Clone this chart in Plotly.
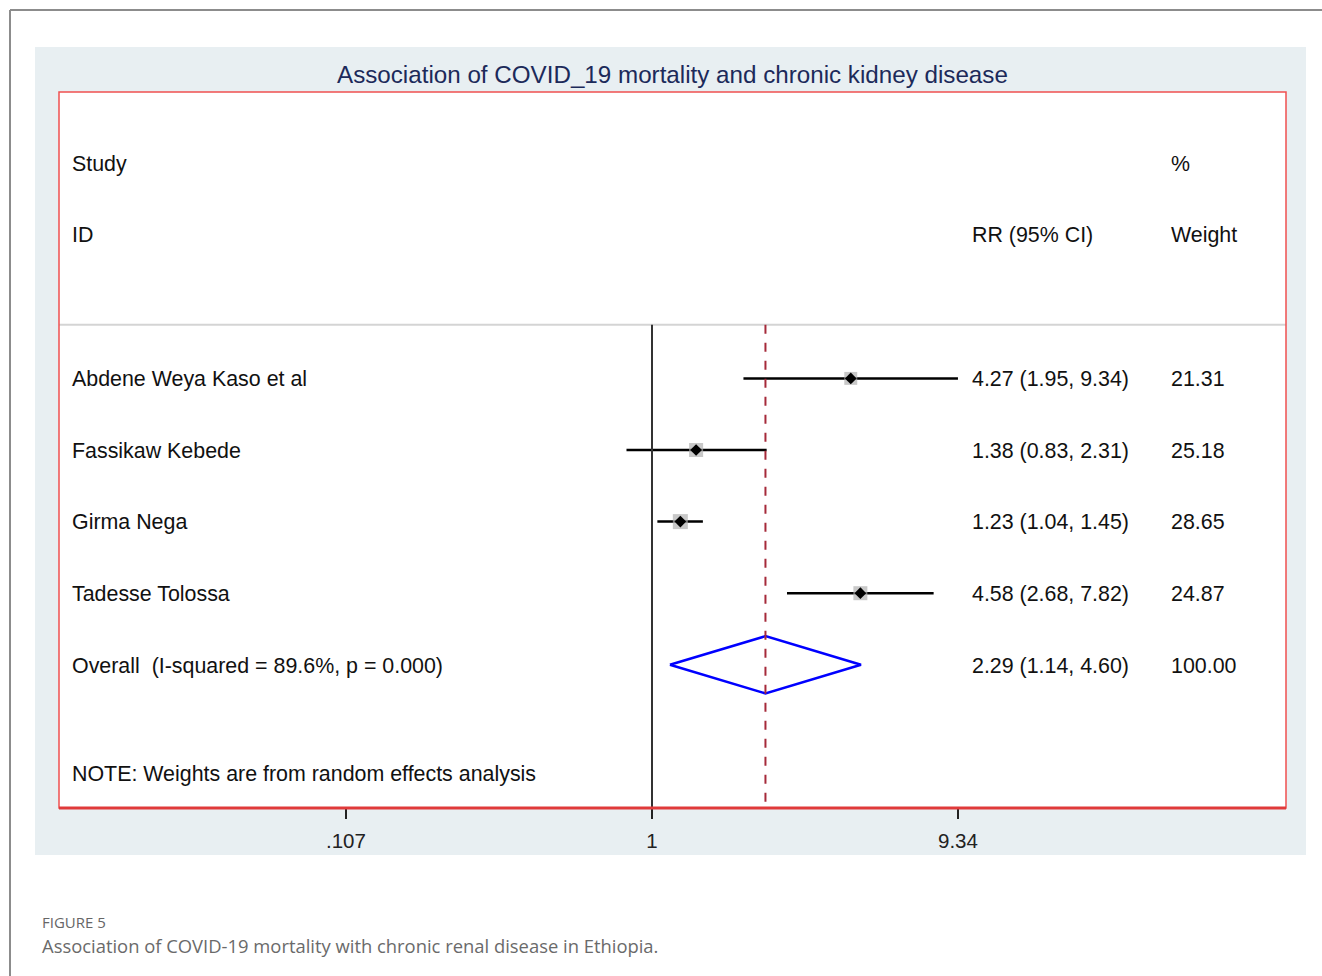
import math
import plotly.graph_objects as go

# Study-level relative risks with 95% confidence intervals
studies = ["Abdene Weya Kaso et al", "Fassikaw Kebede", "Girma Nega", "Tadesse Tolossa"]
rr = [4.27, 1.38, 1.23, 4.58]
ci_low = [1.95, 0.83, 1.04, 2.68]
ci_high = [9.34, 2.31, 1.45, 7.82]
weights = [21.31, 25.18, 28.65, 24.87]

# Pooled random-effects estimate
overall_label = "Overall  (I-squared = 89.6%, p = 0.000)"
overall_rr = 2.29
overall_low = 1.14
overall_high = 4.60
overall_weight = 100.00

tick_values = [0.107, 1, 9.34]
tick_labels = [".107", "1", "9.34"]

FONT = "Liberation Sans, Arial, sans-serif"
W, H = 1322, 976
L, R, T, B = 59, 36, 92, 168
px_per_decade = 315.3
x_range = [-(652 - L) / px_per_decade, (W - R - 652) / px_per_decade]

rows = list(range(len(studies)))
overall_row = len(studies)

fig = go.Figure()

# Confidence interval whiskers
for i in rows:
    fig.add_trace(go.Scatter(
        x=[ci_low[i], ci_high[i]], y=[i, i], mode="lines",
        line=dict(color="black", width=2.5), hoverinfo="skip", showlegend=False))

# Weight boxes (area proportional to weight)
fig.add_trace(go.Scatter(
    x=rr, y=rows, mode="markers",
    marker=dict(symbol="square", color="#b0b0b0",
                size=[15 * math.sqrt(w / 28.65) for w in weights], line=dict(width=0)),
    hoverinfo="skip", showlegend=False))

# Point estimates
fig.add_trace(go.Scatter(
    x=rr, y=rows, mode="markers",
    marker=dict(symbol="diamond", color="black", size=9),
    hoverinfo="skip", showlegend=False))

# Pooled estimate diamond
fig.add_trace(go.Scatter(
    x=[overall_low, overall_rr, overall_high, overall_rr, overall_low],
    y=[overall_row, overall_row - 0.4, overall_row, overall_row + 0.4, overall_row],
    mode="lines", line=dict(color="#0000ff", width=2.5),
    hoverinfo="skip", showlegend=False))

shapes = []
# Outer page frame
shapes.append(dict(type="line", xref="paper", yref="paper",
                   x0=(10 - L) / 1227, x1=1.1, y0=(808 - 10) / 716, y1=(808 - 10) / 716,
                   line=dict(color="#8c8c8c", width=2), layer="below"))
shapes.append(dict(type="line", xref="paper", yref="paper",
                   x0=(10 - L) / 1227, x1=(10 - L) / 1227, y0=(808 - 10) / 716, y1=-0.3,
                   line=dict(color="#8c8c8c", width=2), layer="below"))
# Graph region background
shapes.append(dict(type="rect", xref="paper", yref="paper",
                   x0=(35 - L) / 1227, x1=(1306 - L) / 1227,
                   y0=(808 - 855) / 716, y1=(808 - 47) / 716,
                   fillcolor="#e8eff2", line=dict(width=0), layer="below"))
# Plot region fill
shapes.append(dict(type="rect", xref="paper", yref="paper", x0=0, x1=1, y0=0, y1=1,
                   fillcolor="white", line=dict(width=0), layer="below"))
# Header separator
shapes.append(dict(type="line", xref="paper", yref="y", x0=0, x1=1, y0=-0.75, y1=-0.75,
                   line=dict(color="#d4d4d4", width=2)))
# Line of no effect
shapes.append(dict(type="line", xref="x", yref="y", x0=1, x1=1, y0=-0.75, y1=6,
                   line=dict(color="#333333", width=2)))
# Pooled estimate reference line
shapes.append(dict(type="line", xref="x", yref="y",
                   x0=overall_rr, x1=overall_rr, y0=-0.75, y1=6,
                   line=dict(color="#a52a3a", width=2, dash="dash")))
# Plot border
shapes.append(dict(type="rect", xref="paper", yref="paper", x0=0, x1=1, y0=0, y1=1,
                   line=dict(color="#f05050", width=1.5)))
shapes.append(dict(type="line", xref="paper", yref="paper", x0=0, x1=1, y0=0, y1=0,
                   line=dict(color="#e03a3a", width=3)))

annotations = []


def text(x, y, s, yref="y", size=21.4, color="#111111", anchor="left", family=FONT, xref="paper"):
    annotations.append(dict(x=x, y=y, xref=xref, yref=yref, text=s, showarrow=False,
                            xanchor=anchor, yanchor="middle",
                            font=dict(family=family, size=size, color=color)))


col_study = (70 - L) / 1227
col_rr = (970 - L) / 1227
col_w = (1169 - L) / 1227

text(col_study, -3, "Study")
text(col_study, -2, "ID")
text(col_rr, -2, "RR (95% CI)")
text(col_w, -3, "%")
text(col_w, -2, "Weight")

for i in rows:
    text(col_study, i + 0.01, studies[i])
    text(col_rr, i + 0.01, f"{rr[i]:.2f} ({ci_low[i]:.2f}, {ci_high[i]:.2f})")
    text(col_w, i + 0.01, f"{weights[i]:.2f}")

text(col_study, overall_row + 0.01, overall_label)
text(col_rr, overall_row + 0.01, f"{overall_rr:.2f} ({overall_low:.2f}, {overall_high:.2f})")
text(col_w, overall_row + 0.01, f"{overall_weight:.2f}")
text(col_study, 5.52, "NOTE: Weights are from random effects analysis")

# Title
text((672 - L) / 1227, (808 - 74) / 716, "Association of COVID_19 mortality and chronic kidney disease",
     yref="paper", size=24.2, color="#1c2a5a", anchor="center")

# Figure caption
text((40 - L) / 1227, (808 - 922) / 716, "FIGURE 5", yref="paper", size=15,
     color="#666666", family="Open Sans, Lato, sans-serif")
text((40 - L) / 1227, (808 - 945) / 716,
     "Association of COVID-19 mortality with chronic renal disease in Ethiopia.",
     yref="paper", size=18.4, color="#6a6a6a", family="Open Sans, Lato, sans-serif")

fig.update_layout(
    width=W, height=H,
    margin=dict(l=L, r=R, t=T, b=B),
    paper_bgcolor="white", plot_bgcolor="rgba(0,0,0,0)",
    showlegend=False,
    shapes=shapes, annotations=annotations,
    xaxis=dict(type="log", range=x_range, tickvals=tick_values, ticktext=tick_labels,
               ticks="outside", ticklen=10, tickwidth=2, tickcolor="#222222",
               ticklabelstandoff=4,
               showgrid=False, zeroline=False, showline=False,
               tickfont=dict(family=FONT, size=20.5, color="#222222")),
    yaxis=dict(range=[6, -4], visible=False, showgrid=False, zeroline=False),
)

fig.write_html("out.html")
